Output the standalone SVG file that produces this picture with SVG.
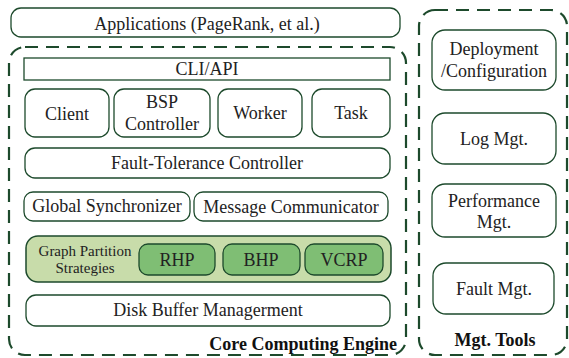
<svg xmlns="http://www.w3.org/2000/svg" width="569" height="358" viewBox="0 0 569 358">
<style>
text{font-family:"Liberation Serif","Times New Roman",serif;font-size:18px;fill:#222;text-anchor:middle}
.b{fill:#fff;stroke:#1d4a2c;stroke-width:1.3}
.d{fill:none;stroke:#1d4a2c;stroke-width:2.2;stroke-dasharray:13 8}
.g{fill:#c8dcaa;stroke:#1d4a2c;stroke-width:1.5}
.gi{fill:#7fbe74;stroke:#1d4a2c;stroke-width:1.3}
.t{font-weight:bold;fill:#111}
.s{font-size:15px}
</style>
<rect width="569" height="358" fill="#fff"/>
<g id="core"><rect class="d" x="9" y="47" width="397" height="308" rx="16"/><text class="t" x="397" y="350" style="text-anchor:end">Core Computing Engine</text></g>
<g id="mgt"><rect class="d" x="419" y="10" width="148" height="345" rx="16"/><text class="t" x="495" y="346">Mgt. Tools</text></g>
<g id="apps"><rect class="b" x="11" y="8" width="389" height="29" rx="10"/><text x="207" y="30">Applications (PageRank, et al.)</text></g>
<g id="cli"><rect class="b" x="24" y="58" width="366" height="22"/><text x="207" y="75">CLI/API</text></g>
<g id="client"><rect class="b" x="25" y="89" width="84" height="48" rx="10"/><text x="67" y="120">Client</text></g>
<g id="bsp"><rect class="b" x="114" y="89" width="96" height="48" rx="10"/><text x="162" y="108">BSP</text><text x="162" y="130">Controller</text></g>
<g id="worker"><rect class="b" x="218" y="89" width="84" height="48" rx="10"/><text x="260" y="119">Worker</text></g>
<g id="task"><rect class="b" x="312" y="89" width="78" height="48" rx="10"/><text x="351" y="119">Task</text></g>
<g id="ft"><rect class="b" x="25" y="148" width="365" height="30" rx="10"/><text x="207" y="169">Fault-Tolerance Controller</text></g>
<g id="gs"><rect class="b" x="24" y="192" width="166" height="29" rx="9"/><text x="107" y="212">Global Synchronizer</text></g>
<g id="mc"><rect class="b" x="194" y="192" width="194" height="29" rx="9"/><text x="291" y="213">Message Communicator</text></g>
<g id="gps"><rect class="g" x="26" y="236" width="365" height="46" rx="12"/><text class="s" x="85" y="256">Graph Partition</text><text class="s" x="85" y="273">Strategies</text></g>
<g id="rhp"><rect class="gi" x="139" y="244" width="76" height="31" rx="9"/><text x="177" y="266">RHP</text></g>
<g id="bhp"><rect class="gi" x="223" y="244" width="77" height="31" rx="9"/><text x="261" y="266">BHP</text></g>
<g id="vcrp"><rect class="gi" x="305" y="244" width="78" height="31" rx="9"/><text x="344" y="266">VCRP</text></g>
<g id="disk"><rect class="b" x="26" y="295" width="364" height="31" rx="10"/><text x="208" y="316">Disk Buffer Managerment</text></g>
<g id="deploy"><rect class="b" x="432" y="30" width="124" height="60" rx="13"/><text x="494" y="55">Deployment</text><text x="494" y="77">/Configuration</text></g>
<g id="log"><rect class="b" x="432" y="113" width="124" height="51" rx="13"/><text x="494" y="145">Log Mgt.</text></g>
<g id="perf"><rect class="b" x="432" y="184" width="124" height="53" rx="13"/><text x="494" y="207">Performance</text><text x="494" y="228">Mgt.</text></g>
<g id="fault"><rect class="b" x="433" y="263" width="121" height="51" rx="13"/><text x="494" y="295">Fault Mgt.</text></g>
<g id="connectors"></g>
</svg>
